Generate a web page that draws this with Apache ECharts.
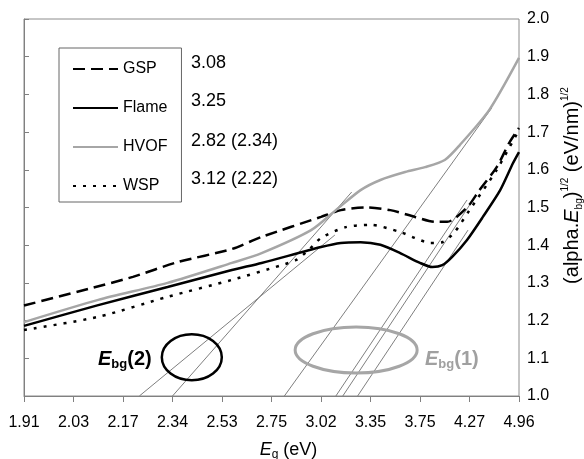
<!DOCTYPE html>
<html>
<head>
<meta charset="utf-8">
<script src="https://cdn.jsdelivr.net/npm/echarts@6/dist/echarts.min.js"></script>
<style>
html, body { margin: 0; padding: 0; background: #fff; }
#chart { width: 584px; height: 459px; }
</style>
</head>
<body>
<div id="chart"></div>
<script>
// x is in tick steps: 0 = 1.91 eV ... 10 = 4.96 eV (even in wavelength, 650 -> 250 nm)
const tickLabels = ['1.91', '2.03', '2.17', '2.34', '2.53', '2.75', '3.02', '3.35', '3.75', '4.27', '4.96'];

const names = ['GSP', 'Flame', 'HVOF', 'WSP'];
const gapValues = ['3.08', '3.25', '2.82 (2.34)', '3.12 (2.22)'];

const gsp = [[0, 1.24], [1.3, 1.284], [2.2, 1.316], [3.1, 1.355], [4.2, 1.39], [4.8, 1.422], [6.0, 1.475],
  [6.4, 1.493], [6.9, 1.50], [7.4, 1.493], [7.9, 1.475], [8.3, 1.462], [8.55, 1.462], [8.95, 1.50],
  [9.2, 1.546], [9.55, 1.607], [9.8, 1.671], [10, 1.711]];

const flame = [[0, 1.186], [1.5, 1.241], [2.9, 1.289], [4.2, 1.334], [4.8, 1.353], [6.0, 1.395], [6.4, 1.406],
  [6.8, 1.408], [7.2, 1.401], [7.6, 1.379], [8.0, 1.353], [8.25, 1.342], [8.45, 1.347], [8.65, 1.369],
  [8.95, 1.414], [9.27, 1.475], [9.62, 1.546], [9.88, 1.618], [10, 1.647]];

const hvof = [[0, 1.196], [1.5, 1.255], [2.9, 1.30], [4.2, 1.353], [4.8, 1.379], [5.8, 1.44], [6.3, 1.493],
  [6.8, 1.546], [7.2, 1.573], [7.7, 1.594], [8.1, 1.607], [8.5, 1.626], [8.8, 1.665], [9.4, 1.759], [10, 1.897]];

const wsp = [[0, 1.175], [1.5, 1.21], [2.9, 1.263], [4.2, 1.308], [5.2, 1.347], [5.5, 1.361], [5.75, 1.387],
  [6.0, 1.419], [6.5, 1.448], [7.0, 1.454], [7.6, 1.435], [7.9, 1.419], [8.2, 1.406], [8.45, 1.408],
  [8.7, 1.435], [9.0, 1.493], [9.55, 1.60], [10, 1.706]];

// extrapolated tangents down to the axis
const tangents = [
  [[2.33, 1.0], [6.28, 1.427]],
  [[3.0, 1.0], [6.62, 1.541]],
  [[5.26, 1.0], [9.45, 1.764]],
  [[6.3, 1.0], [8.95, 1.52]],
  [[6.44, 1.0], [9.07, 1.52]],
  [[6.74, 1.0], [8.97, 1.44]]
];

// circled groups of intercepts: centre in data units
const ring2 = [3.39, 1.103];
const ring1 = [6.71, 1.122];

const font = 'Liberation Sans, Arial, sans-serif';
const chart = echarts.init(document.getElementById('chart'));

const curve = (name, data, color, type) => ({
  name: name,
  type: 'line',
  data: data,
  smooth: 0.25,
  symbol: 'none',
  z: 3,
  lineStyle: { color: color, width: 2.5, type: type },
  itemStyle: { color: color }
});

const series = [
  curve('GSP', gsp, '#000', [12, 6]),
  curve('Flame', flame, '#000', 'solid'),
  curve('HVOF', hvof, '#a6a6a6', 'solid'),
  curve('WSP', wsp, '#000', [3, 7])
];
tangents.forEach(t => {
  series.push({
    type: 'line', data: t, symbol: 'none', silent: true, z: 2,
    lineStyle: { color: '#7f7f7f', width: 1 }
  });
});

chart.setOption({
  animation: false,
  textStyle: { fontFamily: font },
  grid: {
    left: 24, right: 65, top: 19, bottom: 63, outerBoundsMode: 'none',
    show: true, borderColor: '#8c8c8c', borderWidth: 1
  },
  legend: {
    data: names,
    orient: 'vertical',
    left: 59, top: 48,
    itemWidth: 45, itemHeight: 14, itemGap: 23,
    padding: [13, 14, 8, 13],
    borderColor: '#666', borderWidth: 1,
    itemStyle: { color: 'rgba(0,0,0,0)', borderWidth: 0, opacity: 0 },
    textStyle: { fontSize: 16, color: '#000', fontFamily: font }
  },
  xAxis: {
    type: 'value', min: 0, max: 10, interval: 1,
    name: '{e|E}{sub|g}{n| (eV)}',
    nameLocation: 'middle', nameGap: 43,
    nameTextStyle: {
      color: '#000',
      padding: [0, 0, 0, 34],
      rich: {
        e: { fontSize: 18, fontStyle: 'italic', lineHeight: 22, color: '#000', fontFamily: font },
        sub: { fontSize: 12, lineHeight: 12, verticalAlign: 'bottom', color: '#000', fontFamily: font },
        n: { fontSize: 18, lineHeight: 22, color: '#000', fontFamily: font }
      }
    },
    axisLine: { lineStyle: { color: '#808080' } },
    axisTick: { length: 6, lineStyle: { color: '#808080' } },
    axisLabel: { fontSize: 16, color: '#000', margin: 19, formatter: v => tickLabels[Math.round(v)] },
    splitLine: { show: false }
  },
  yAxis: {
    type: 'value', position: 'right', min: 1, max: 2, interval: 0.1,
    name: '(alpha.{e|E}{sub|bg}){sup|1/2} (eV/nm){sup|1/2}',
    nameLocation: 'middle', nameRotate: 90, nameGap: 20,
    nameTextStyle: {
      fontSize: 20, color: '#000',
      padding: [0, 0, 0, 44],
      rich: {
        e: { fontSize: 20, fontStyle: 'italic', lineHeight: 24, color: '#000', fontFamily: font },
        sub: { fontSize: 10, lineHeight: 10, verticalAlign: 'bottom', color: '#000', fontFamily: font },
        sup: { fontSize: 10, lineHeight: 10, verticalAlign: 'top', color: '#000', fontFamily: font }
      }
    },
    axisLine: { show: true, lineStyle: { color: '#808080' } },
    axisTick: { show: true, length: 5, lineStyle: { color: '#808080' } },
    axisLabel: { fontSize: 16, color: '#000', margin: 8, formatter: v => v.toFixed(1) },
    splitLine: { show: false }
  },
  series: series
});

// annotations: values next to the legend, circles and their labels
const p2 = chart.convertToPixel({ gridIndex: 0 }, ring2);
const p1 = chart.convertToPixel({ gridIndex: 0 }, ring1);
const valueRows = [64, 102, 142, 180];
const graphics = gapValues.map((v, i) => ({
  type: 'text', left: 191, top: valueRows[i] - 10,
  style: { text: v, font: '18px ' + font, fill: '#000' }
}));
const bgLabel = (txt, color) => ({
  text: '{e|E}{sub|bg}{n|' + txt + '}',
  fill: color,
  rich: {
    e: { fontSize: 20, fontWeight: 'bold', fontStyle: 'italic', lineHeight: 24, fill: color, fontFamily: font },
    sub: { fontSize: 13, fontWeight: 'bold', lineHeight: 14, verticalAlign: 'bottom', fill: color, fontFamily: font },
    n: { fontSize: 20, fontWeight: 'bold', lineHeight: 24, fill: color, fontFamily: font }
  }
});
graphics.push(
  { type: 'ellipse', z: 10, shape: { cx: p2[0], cy: p2[1], rx: 30, ry: 23 }, style: { fill: 'none', stroke: '#000', lineWidth: 2.5 } },
  { type: 'ellipse', z: 10, shape: { cx: p1[0], cy: p1[1], rx: 61, ry: 23 }, style: { fill: 'none', stroke: '#a6a6a6', lineWidth: 3 } },
  { type: 'text', z: 10, left: 98, top: 349, style: bgLabel('(2)', '#000') },
  { type: 'text', z: 10, left: 425, top: 349, style: bgLabel('(1)', '#a0a0a0') }
);
chart.setOption({ graphic: graphics });
</script>
</body>
</html>
